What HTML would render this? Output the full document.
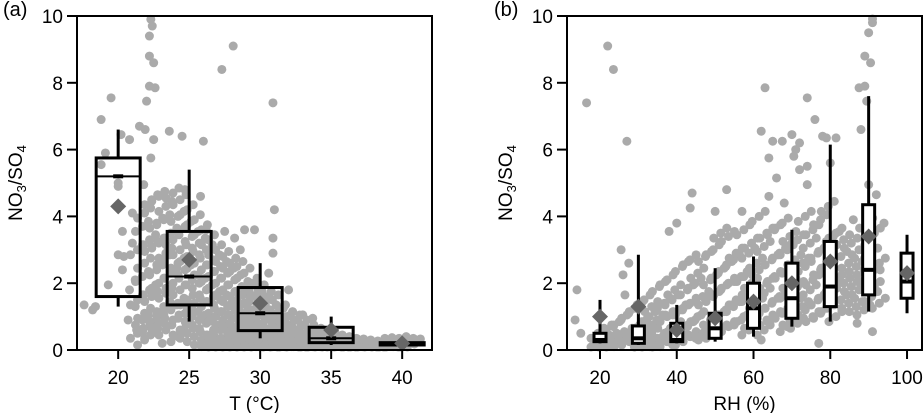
<!DOCTYPE html>
<html><head><meta charset="utf-8"><style>
body{margin:0;background:#fff}
svg{display:block;font-family:"Liberation Sans",Arial,sans-serif}
</style></head><body>
<svg id="chart" width="924" height="413" viewBox="0 0 924 413"></svg>
<script>
// ---- Panel (a) data ----
const catsA=[20,25,30,35,40];
const q1A=[1.6,1.35,0.58,0.22,0.15];
const medA=[5.2,2.2,1.1,0.35,0.18];
const q3A=[5.75,3.55,1.87,0.68,0.22];
const wloA=[1.3,0.85,0.35,0.15,0.15];
const whiA=[6.6,5.4,2.6,1.0,0.22];
const meanA=[4.3,2.7,1.4,0.6,0.2];
const outA=[[22.3,9.9],[22.4,9.7],[22.2,9.4],[22.2,8.8],[22.5,8.6],[28.1,9.1],[27.3,8.4],[22.2,7.9],[22.6,7.85],[22.0,7.45],[19.5,7.55],[18.8,6.9],[30.9,7.4],[21.5,6.7],[21.9,6.6],[23.6,6.55],[24.5,6.4],[26.0,6.25],[22.5,6.3],[20.8,6.3],[20.2,6.45],[22.3,5.75],[19.1,5.9],[18.8,5.55],[20.0,5.0],[21.8,4.95],[20.0,4.9],[31.0,4.2],[20.3,3.55],[30.9,3.35],[30.9,2.9],[20.0,2.85],[20.4,2.8],[20.3,2.4],[19.3,1.95],[17.6,1.35],[18.4,1.3],[18.2,1.2],[21.2,2.1],[21.0,4.1],[25.8,4.6],[24.7,4.8],[26.2,3.6],[27.5,3.55],[28.9,3.6],[29.6,3.6],[28.2,3.35],[28.6,3.0],[30.6,2.3],[32.0,1.8],[33.0,1.05],[33.7,0.95],[21.3,0.6],[23.1,0.2],[20.7,0.9],[21.0,3.2],[21.2,1.3],[20.8,1.8]];
const cloudA=[[21.5,[3.0,2.2,1.5,0.9,0.5,3.7]],[22,[4.1,3.3,2.6,1.8,1.1,0.7,0.3]],[22.5,[4.5,3.8,3.1,2.4,1.6,1.0,0.5]],[23,[4.6,3.9,3.2,2.7,2.0,1.3,0.8]],[23.5,[4.3,3.5,2.9,2.3,1.7,1.2,0.6]],[24,[4.7,4.0,3.3,2.6,2.0,1.4,0.9,0.4]],[24.5,[4.5,3.7,3.0,2.4,1.8,1.1,0.6]],[25,[4.2,3.4,2.8,2.1,1.5,1.0,0.5]],[25.5,[3.9,3.2,2.6,2.0,1.4,0.9,0.4]],[26,[3.6,3.0,2.4,1.8,1.3,0.8,0.3]],[26.5,[3.3,2.7,2.2,1.6,1.1,0.6,0.25]],[27,[3.0,2.5,2.0,1.5,1.0,0.6,0.2]],[27.5,[2.8,2.3,1.8,1.3,0.9,0.5,0.2]],[28,[2.6,2.1,1.6,1.2,0.8,0.45,0.15]],[28.5,[2.5,1.9,1.5,1.1,0.7,0.4,0.15]],[29,[2.3,1.8,1.4,1.0,0.65,0.35,0.12]],[29.5,[2.0,1.6,1.2,0.9,0.6,0.3,0.1]],[30,[1.8,1.4,1.1,0.8,0.5,0.25,0.1]],[30.5,[1.6,1.2,0.9,0.65,0.4,0.2]],[31,[1.5,1.1,0.8,0.55,0.3,0.15]],[31.5,[1.2,0.9,0.65,0.45,0.25,0.1]],[32,[1.0,0.75,0.5,0.3,0.15]],[32.5,[0.9,0.6,0.4,0.25,0.1]],[33,[0.75,0.5,0.3,0.15]],[33.5,[0.6,0.4,0.2,0.1]],[34,[0.5,0.3,0.15]],[34.5,[0.4,0.25,0.12]],[35,[0.35,0.2,0.1]],[35.5,[0.3,0.15]],[36,[0.25,0.12]],[36.5,[0.2,0.1]],[37,[0.18,0.1]],[37.5,[0.15]],[38,[0.12]],[38.5,[0.2,0.1]],[39,[0.22,0.12]],[39.5,[0.2]],[40,[0.25,0.15]],[40.5,[0.2]],[41,[0.18]]];
const ticksXA=[20,25,30,35,40];
// ---- Panel (b) data ----
const catsB=[20,30,40,50,60,70,80,90,100];
const q1B=[0.25,0.2,0.25,0.35,0.65,0.95,1.3,1.65,1.55];
const medB=[0.3,0.35,0.3,0.65,1.25,1.55,1.9,2.4,2.05];
const q3B=[0.5,0.72,0.8,1.1,2.0,2.6,3.25,4.35,2.9];
const wloB=[0.2,0.15,0.2,0.25,0.4,0.7,0.85,1.15,1.1];
const whiB=[1.5,2.85,1.35,2.45,2.8,3.6,6.15,7.6,3.45];
const meanB=[1.0,1.3,0.6,0.95,1.45,2.0,2.65,3.4,2.3];
const outB=[[16.5,7.4],[22,9.1],[23.5,8.4],[27,6.25],[14,1.8],[13.5,0.9],[15,0.5],[25.5,3.0],[27.5,2.6],[26,2.25],[26.5,1.65],[40,3.8],[38,3.55],[44,4.7],[43.5,4.25],[53,4.8],[50,4.15],[57,4.15],[63,7.85],[62,6.55],[65,6.25],[67.5,6.25],[70,6.45],[71,6.0],[72,6.2],[74,7.55],[76,6.9],[78,6.4],[79,6.35],[81.5,6.35],[70.5,5.8],[72,5.4],[74,5.5],[64,5.75],[66,5.15],[64,4.6],[68,4.4],[74,4.95],[80,5.6],[87.5,7.85],[89,7.9],[89.5,7.45],[88,6.6],[89,8.8],[90.5,8.6],[90,9.5],[91,9.8],[91,10],[90,4.95],[92,4.65],[94,3.8],[86,3.9],[93,2.4],[87,0.8],[91,0.55],[77,0.2],[62,0.3]];
const cloudB=[[20,[0.5,0.3,0.15]],[22,[0.6,0.35,0.15]],[24,[0.7,0.4,0.2]],[26,[0.9,0.5,0.25]],[28,[1.1,0.6,0.3]],[30,[1.3,0.8,0.4,0.15]],[32,[1.5,1.0,0.5,0.2]],[34,[1.3,0.9,0.5,0.25]],[36,[1.9,1.4,0.9,0.5,0.2]],[38,[2.1,1.5,1.0,0.55,0.25]],[40,[1.8,1.2,0.7,0.3]],[42,[2.5,1.8,1.2,0.7,0.3]],[44,[2.7,2.0,1.4,0.9,0.4]],[46,[2.3,1.6,1.0,0.5]],[48,[2.8,2.1,1.5,0.9,0.45]],[50,[3.0,2.3,1.6,1.0,0.5]],[52,[3.5,2.5,1.8,1.2,0.6]],[54,[3.4,2.7,2.0,1.3,0.7]],[56,[2.9,2.2,1.5,0.9]],[58,[3.6,2.9,2.2,1.6,1.0,0.6]],[60,[3.2,2.6,2.0,1.4,0.8]],[62,[4.0,3.1,2.4,1.7,1.1,0.6]],[64,[3.5,2.7,2.0,1.4,0.9]],[66,[3.6,2.9,2.2,1.6,1.0]],[68,[3.8,3.0,2.3,1.7,1.1,0.7]],[70,[3.4,2.7,2.0,1.4,0.9]],[72,[3.3,2.6,1.9,1.3,0.8]],[74,[4.0,3.2,2.5,1.8,1.2]],[76,[3.6,2.9,2.1,1.5,1.0]],[78,[3.9,3.1,2.4,1.7,1.1]],[80,[4.3,3.4,2.6,1.9,1.3]],[82,[3.5,2.8,2.1,1.5,1.0]],[84,[3.3,2.6,2.0,1.4]],[86,[3.2,2.5,1.9,1.3]],[88,[3.0,2.4,1.8,1.2]],[90,[3.8,2.9,2.2,1.6]],[92,[3.5,2.6,1.9,1.4]]];
const ticksXB=[20,40,60,80,100];
const ticksY=[0,2,4,6,8,10];

const NS='http://www.w3.org/2000/svg';
const svg=document.getElementById('chart');
function mk(tag,attrs,parent){const e=document.createElementNS(NS,tag);for(const k in attrs)e.setAttribute(k,attrs[k]);(parent||svg).appendChild(e);return e;}
const TOP=16,BOT=350;
function yS(v){return BOT-(v/10)*(BOT-TOP);}
// pixel offsets used to render each cloud sample as a small cluster (styling only)
const CL=[[0,0],[-7,5],[6,-5]];

function panel(cfg){
  const g=mk('g',{});
  
  
  const xS=v=>cfg.L+(v-cfg.x0)/(cfg.x1-cfg.x0)*(cfg.R-cfg.L);
  const pg=mk('g',{fill:'#aaaaaa'},g);
  
  
  cfg.cloud.forEach(([x,vs])=>vs.forEach((v,i)=>{
    CL.forEach(([dx,dy],k)=>{
      const cy=Math.min(yS(v)+dy,BOT-3);
      const c=mk('circle',{cx:xS(x)+dx+((i%2)?3:-2),cy:cy,r:4.5},pg);
      
      
    });
  }));
  cfg.out.forEach(([x,v])=>{
    const c=mk('circle',{cx:xS(x),cy:Math.max(yS(v),TOP+3),r:4.5},pg);
    
    
  });
  cfg.cats.forEach((c,i)=>{
    const bg=mk('g',{},g);
    
    
    const cx=xS(c),hw=cfg.hw;
    mk('line',{x1:cx,x2:cx,y1:yS(cfg.whi[i]),y2:yS(cfg.q3[i]),stroke:'#000','stroke-width':3},bg);
    mk('line',{x1:cx,x2:cx,y1:yS(cfg.q1[i]),y2:yS(cfg.wlo[i]),stroke:'#000','stroke-width':3},bg);
    const h=Math.max(yS(cfg.q1[i])-yS(cfg.q3[i]),2);
    mk('rect',{x:cx-hw,y:yS(cfg.q3[i]),width:2*hw,height:h,fill:cfg.fill,stroke:'#000','stroke-width':3},bg);
    mk('line',{x1:cx-hw,x2:cx+hw,y1:yS(cfg.med[i]),y2:yS(cfg.med[i]),stroke:'#000','stroke-width':2},bg);
    mk('rect',{x:cx-5,y:yS(cfg.med[i])-2,width:10,height:4,fill:'#000'},bg);
    const my=yS(cfg.mean[i]);
    const d=mk('polygon',{points:`${cx},${my-8} ${cx+8},${my} ${cx},${my+8} ${cx-8},${my}`,fill:'#666'},bg);
    
    
  });
  const f=mk('rect',{x:cfg.L,y:TOP,width:cfg.R-cfg.L,height:BOT-TOP,fill:'none',stroke:'#000','stroke-width':2},g);
  
  
  const ya=mk('g',{},g);
  
  
  ticksY.forEach(t=>{
    mk('line',{x1:cfg.L-10,x2:cfg.L,y1:yS(t),y2:yS(t),stroke:'#000','stroke-width':2},ya);
    const tx=mk('text',{x:cfg.L-14,y:yS(t)+7,'text-anchor':'end','font-size':19},ya);
    tx.textContent=t;
    
    
  });
  const xa=mk('g',{},g);
  
  
  cfg.ticks.forEach(t=>{
    mk('line',{x1:xS(t),x2:xS(t),y1:BOT,y2:BOT+9,stroke:'#000','stroke-width':2},xa);
    const tx=mk('text',{x:xS(t),y:384,'text-anchor':'middle','font-size':19},xa);
    tx.textContent=t;
    
    
  });
  const xt=mk('text',{x:(cfg.L+cfg.R)/2,y:410,'text-anchor':'middle','font-size':19},g);
  xt.textContent=cfg.xtitle;
  
  
  const yt=mk('text',{x:0,y:0,'text-anchor':'middle','font-size':19,transform:`translate(${cfg.ylx},183) rotate(-90)`},g);
  yt.innerHTML='NO<tspan font-size="13" dy="4">3</tspan><tspan dy="-4">/SO</tspan><tspan font-size="13" dy="4">4</tspan>';
  
  
  const pl=mk('text',{x:cfg.plx,y:16,'font-size':20},g);
  pl.textContent=cfg.label;
  
  
}
panel({name:'panel-a-temperature',L:77,R:432,x0:17.1,x1:42.1,cats:catsA,q1:q1A,med:medA,q3:q3A,wlo:wloA,whi:whiA,mean:meanA,out:outA,cloud:cloudA,ticks:ticksXA,hw:22,fill:'none',xtitle:'T (°C)',ylx:22,plx:3,label:'(a)'});
panel({name:'panel-b-humidity',L:567,R:922,x0:11.4,x1:103.9,cats:catsB,q1:q1B,med:medB,q3:q3B,wlo:wloB,whi:whiB,mean:meanB,out:outB,cloud:cloudB,ticks:ticksXB,hw:6,fill:'#fff',xtitle:'RH (%)',ylx:512,plx:494,label:'(b)'});
</script>
</body></html>
